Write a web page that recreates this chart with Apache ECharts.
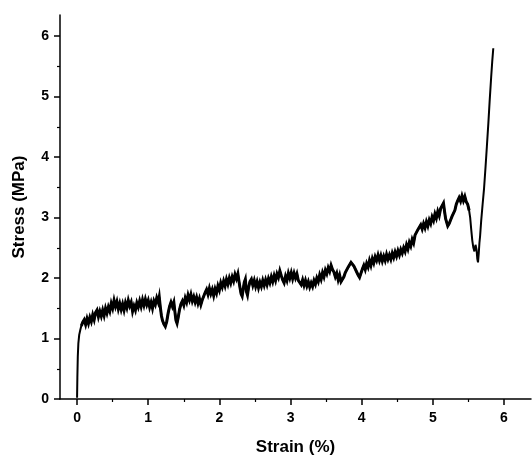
<!DOCTYPE html>
<html>
<head>
<meta charset="utf-8">
<script src="https://cdn.jsdelivr.net/npm/echarts@6/dist/echarts.min.js"></script>
<style>
  html, body { margin: 0; padding: 0; background: #fff; }
  #chart { width: 532px; height: 462px; }
</style>
</head>
<body>
<div id="chart"></div>
<script>
// Stress-strain record of the tensile test
const strain = [
  0.000, 0.004, 0.010, 0.018, 0.030, 0.045, 0.060, 0.080, 0.100, 0.120, 0.140, 0.160, 0.180, 0.200,
  0.220, 0.240, 0.260, 0.280, 0.300, 0.320, 0.340, 0.360, 0.380, 0.400, 0.420, 0.440, 0.460, 0.480,
  0.500, 0.520, 0.540, 0.560, 0.580, 0.600, 0.620, 0.640, 0.660, 0.680, 0.700, 0.720, 0.740, 0.760,
  0.780, 0.800, 0.820, 0.840, 0.860, 0.880, 0.900, 0.920, 0.940, 0.960, 0.980, 1.000, 1.020, 1.040,
  1.060, 1.080, 1.100, 1.120, 1.140, 1.155, 1.170, 1.185, 1.200, 1.220, 1.240, 1.260, 1.280, 1.300,
  1.320, 1.340, 1.360, 1.375, 1.390, 1.405, 1.420, 1.440, 1.460, 1.480, 1.500, 1.520, 1.540, 1.560,
  1.580, 1.600, 1.620, 1.640, 1.660, 1.680, 1.700, 1.720, 1.740, 1.760, 1.780, 1.800, 1.820, 1.840,
  1.860, 1.880, 1.900, 1.920, 1.940, 1.960, 1.980, 2.000, 2.020, 2.040, 2.060, 2.080, 2.100, 2.120,
  2.140, 2.160, 2.180, 2.200, 2.220, 2.240, 2.260, 2.275, 2.290, 2.305, 2.320, 2.335, 2.350, 2.365,
  2.380, 2.395, 2.410, 2.430, 2.450, 2.470, 2.490, 2.510, 2.530, 2.550, 2.570, 2.590, 2.610, 2.630,
  2.650, 2.670, 2.690, 2.710, 2.730, 2.750, 2.770, 2.790, 2.810, 2.830, 2.850, 2.870, 2.890, 2.910,
  2.930, 2.950, 2.970, 2.990, 3.010, 3.030, 3.050, 3.070, 3.090, 3.110, 3.130, 3.150, 3.170, 3.190,
  3.210, 3.230, 3.250, 3.270, 3.290, 3.310, 3.330, 3.350, 3.370, 3.390, 3.410, 3.430, 3.450, 3.470,
  3.490, 3.510, 3.530, 3.550, 3.570, 3.590, 3.610, 3.630, 3.650, 3.670, 3.690, 3.710, 3.730, 3.750,
  3.770, 3.790, 3.810, 3.830, 3.850, 3.870, 3.890, 3.910, 3.930, 3.950, 3.970, 3.990, 4.010, 4.030,
  4.050, 4.070, 4.090, 4.110, 4.130, 4.150, 4.170, 4.190, 4.210, 4.230, 4.250, 4.270, 4.290, 4.310,
  4.330, 4.350, 4.370, 4.390, 4.410, 4.430, 4.450, 4.470, 4.490, 4.510, 4.530, 4.550, 4.570, 4.590,
  4.610, 4.630, 4.650, 4.670, 4.690, 4.710, 4.730, 4.750, 4.770, 4.790, 4.810, 4.830, 4.850, 4.870,
  4.890, 4.910, 4.930, 4.950, 4.970, 4.990, 5.010, 5.030, 5.050, 5.070, 5.090, 5.110, 5.130, 5.150,
  5.165, 5.180, 5.195, 5.210, 5.230, 5.250, 5.270, 5.290, 5.310, 5.330, 5.350, 5.370, 5.390, 5.410,
  5.430, 5.450, 5.470, 5.490, 5.510, 5.525, 5.540, 5.555, 5.570, 5.585, 5.600, 5.615, 5.625, 5.635,
  5.645, 5.655, 5.665, 5.680, 5.700, 5.720, 5.740, 5.760, 5.780, 5.800, 5.820, 5.835, 5.850
];
const stress = [
  0.02, 0.35, 0.70, 0.92, 1.06, 1.14, 1.21, 1.27, 1.31, 1.23, 1.33, 1.25, 1.35, 1.28,
  1.39, 1.31, 1.43, 1.47, 1.36, 1.45, 1.37, 1.47, 1.38, 1.50, 1.42, 1.52, 1.45, 1.58,
  1.50, 1.63, 1.53, 1.61, 1.49, 1.58, 1.48, 1.57, 1.47, 1.59, 1.51, 1.63, 1.54, 1.60,
  1.45, 1.54, 1.47, 1.59, 1.52, 1.62, 1.53, 1.64, 1.55, 1.65, 1.56, 1.63, 1.52, 1.60,
  1.50, 1.62, 1.56, 1.67, 1.60, 1.69, 1.52, 1.38, 1.30, 1.24, 1.20, 1.28, 1.42, 1.53,
  1.60, 1.53, 1.60, 1.44, 1.30, 1.25, 1.34, 1.48, 1.57, 1.62, 1.55, 1.67, 1.60, 1.72,
  1.64, 1.73, 1.62, 1.69, 1.60, 1.68, 1.58, 1.66, 1.56, 1.64, 1.70, 1.76, 1.81, 1.73,
  1.83, 1.74, 1.81, 1.71, 1.82, 1.75, 1.87, 1.80, 1.92, 1.85, 1.95, 1.87, 1.98, 1.90,
  2.00, 1.92, 2.02, 1.95, 2.06, 1.99, 2.07, 1.95, 1.84, 1.74, 1.70, 1.82, 1.93, 1.98,
  1.78, 1.72, 1.84, 1.94, 1.98, 1.88, 1.96, 1.86, 1.94, 1.84, 1.93, 1.86, 1.96, 1.88,
  1.97, 1.89, 1.99, 1.92, 2.02, 1.94, 2.04, 1.96, 2.07, 2.01, 2.12, 2.04, 1.97, 1.92,
  2.03, 1.96, 2.08, 2.00, 2.09, 1.99, 2.08, 2.00, 2.07, 1.96, 1.97, 1.89, 1.97, 1.88,
  1.96, 1.87, 1.94, 1.85, 1.92, 1.86, 1.96, 1.90, 2.00, 1.94, 2.05, 1.98, 2.09, 2.02,
  2.13, 2.07, 2.17, 2.11, 2.21, 2.14, 2.10, 2.02, 2.08, 1.97, 2.05, 1.94, 1.95, 2.02,
  2.09, 2.10, 2.18, 2.19, 2.26, 2.28, 2.20, 2.17, 2.10, 2.05, 2.01, 2.08, 2.15, 2.21,
  2.14, 2.24, 2.18, 2.29, 2.21, 2.32, 2.25, 2.35, 2.29, 2.38, 2.29, 2.37, 2.28, 2.36,
  2.29, 2.39, 2.31, 2.38, 2.31, 2.41, 2.34, 2.43, 2.36, 2.45, 2.38, 2.47, 2.41, 2.50,
  2.44, 2.55, 2.48, 2.59, 2.53, 2.64, 2.58, 2.71, 2.71, 2.80, 2.81, 2.88, 2.81, 2.90,
  2.83, 2.93, 2.86, 2.96, 2.90, 3.01, 2.95, 3.06, 2.99, 3.10, 3.03, 3.15, 3.14, 3.24,
  3.10, 2.98, 2.92, 2.86, 2.90, 2.96, 3.02, 3.05, 3.12, 3.22, 3.28, 3.33, 3.27, 3.36,
  3.28, 3.35, 3.26, 3.22, 3.12, 3.00, 2.80, 2.62, 2.50, 2.44, 2.55, 2.47, 2.32, 2.26,
  2.40, 2.58, 2.70, 2.95, 3.22, 3.48, 3.82, 4.18, 4.55, 4.95, 5.32, 5.58, 5.80
];
const strainTicks = [0, 1, 2, 3, 4, 5, 6];
const strainMinorTicks = [0.5, 1.5, 2.5, 3.5, 4.5, 5.5];
const stressTicks = [0, 1, 2, 3, 4, 5, 6];
const stressMinorTicks = [0.5, 1.5, 2.5, 3.5, 4.5, 5.5];

const points = strain.map((s, i) => [s, stress[i]]);
// the noisy plateau is traced with a heavier pen than the steep loading segments
const plateau = points.filter(p => p[0] >= 0.06 && p[0] <= 5.52);

const FONT = '"Liberation Sans", Arial, sans-serif';
const axisLineStyle = { color: '#000', width: 1.5 };

const chart = echarts.init(document.getElementById('chart'), null, { renderer: 'canvas' });
chart.setOption({
  animation: false,
  backgroundColor: '#fff',
  grid: { left: 60, right: 1, top: 15, bottom: 63, containLabel: false },
  xAxis: [
    {
      type: 'value', min: -0.24, max: 6.38,
      name: 'Strain (%)', nameLocation: 'middle', nameGap: 40,
      nameTextStyle: { fontFamily: FONT, fontWeight: 'bold', fontSize: 17, color: '#000' },
      axisLine: { show: true, onZero: false, lineStyle: axisLineStyle },
      axisTick: { show: true, inside: false, length: 6, lineStyle: { color: '#000', width: 1.5 }, customValues: strainTicks },
      axisLabel: { customValues: strainTicks, margin: 12, fontFamily: FONT, fontWeight: 'bold', fontSize: 14, color: '#000' },
      splitLine: { show: false }
    },
    {
      type: 'value', min: -0.24, max: 6.38, position: 'bottom',
      axisLine: { show: false, onZero: false },
      axisTick: { show: true, inside: false, length: 3, lineStyle: { color: '#000', width: 1.2 }, customValues: strainMinorTicks },
      axisLabel: { show: false },
      splitLine: { show: false }
    }
  ],
  yAxis: [
    {
      type: 'value', min: 0, max: 6.35,
      name: 'Stress (MPa)', nameLocation: 'middle', nameGap: 32, nameRotate: 90,
      nameTextStyle: { fontFamily: FONT, fontWeight: 'bold', fontSize: 17, color: '#000' },
      axisLine: { show: true, onZero: false, lineStyle: axisLineStyle },
      axisTick: { show: true, inside: false, length: 6, lineStyle: { color: '#000', width: 1.5 }, customValues: stressTicks },
      axisLabel: { customValues: stressTicks, margin: 11, fontFamily: FONT, fontWeight: 'bold', fontSize: 14, color: '#000' },
      splitLine: { show: false }
    },
    {
      type: 'value', min: 0, max: 6.35, position: 'left',
      axisLine: { show: false, onZero: false },
      axisTick: { show: true, inside: false, length: 3, lineStyle: { color: '#000', width: 1.2 }, customValues: stressMinorTicks },
      axisLabel: { show: false },
      splitLine: { show: false }
    }
  ],
  series: [
    {
      type: 'line',
      data: points,
      showSymbol: false,
      symbol: 'none',
      lineStyle: { color: '#000', width: 2 },
      z: 5
    },
    {
      type: 'line',
      data: plateau,
      showSymbol: false,
      symbol: 'none',
      lineStyle: { color: '#000', width: 3, join: 'miter' },
      z: 6
    }
  ]
});
</script>
</body>
</html>
